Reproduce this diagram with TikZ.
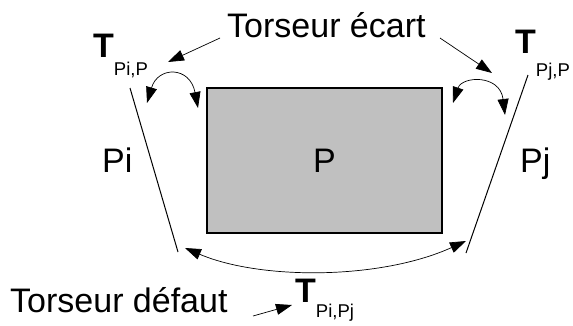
\documentclass[tikz,border=0pt]{standalone}
\usepackage{fontspec}
\setmainfont{Liberation Sans}
\usetikzlibrary{arrows.meta}
\newcommand{\bigfont}{\fontsize{34}{40}\selectfont}
\newcommand{\subfont}{\fontsize{18.5}{22}\selectfont}
\tikzset{
  lbl/.style={inner sep=0pt, anchor=base west, font=\bigfont},
  tlbl/.style={inner sep=0pt, anchor=base west, font=\bigfont},
  piece/.style={draw=black, line width=1pt},
  arr/.style={draw=black, line width=0.7pt, -{Triangle[length=16pt,width=11pt]}},
  darr/.style={draw=black, line width=0.7pt, {Triangle[length=16pt,width=11pt]}-{Triangle[length=16pt,width=11pt]}},
  rect/.style={draw=black, line width=1.3pt, fill={rgb,255:red,192;green,192;blue,192},
    minimum width=235pt, minimum height=145pt, inner sep=0pt, font=\bigfont}
}
\begin{document}
\begin{tikzpicture}[x=1pt,y=-1pt]
\useasboundingbox (0,0) rectangle (573,325);
% main part
\node[rect] (P) at (324.5,160.5) {P};
% labels
\node[lbl] (ecart) at (227,37) {Torseur écart};
\node[lbl] (defaut) at (10,312) {Torseur défaut};
\node[lbl] (pi) at (102,172) {Pi};
\node[lbl] (pj) at (520,172) {Pj};
\node[tlbl] (tpip) at (93,57) {\textbf{T}\raisebox{-18pt}{\subfont Pi,P}};
\node[tlbl] (tpjp) at (515,53) {\textbf{T}\raisebox{-23pt}{\subfont Pj,P}};
\node[tlbl] (tpipj) at (295,302) {\textbf{T}\raisebox{-15pt}{\subfont Pi,Pj}};
% surfaces Pi and Pj
\coordinate (pia) at (130,88);
\coordinate (pib) at (178,252);
\coordinate (pja) at (528,75);
\coordinate (pjb) at (466,253);
\draw[piece] (pia) -- (pib);
\draw[piece] (pja) -- (pjb);
% arrows from "Torseur ecart"
\coordinate (e1s) at (220,38);
\coordinate (e1t) at (168,62);
\coordinate (e2s) at (440,38);
\coordinate (e2t) at (492,73);
\draw[arr] (e1s) -- (e1t);
\draw[arr] (e2s) -- (e2t);
% double curved arrows
\coordinate (l1) at (147,103);
\coordinate (l2) at (198,108);
\draw[darr] (l1) .. controls (158,66) and (190,66) .. (l2);
\coordinate (r1) at (453,103);
\coordinate (r2) at (505,115);
\draw[darr] (r1) .. controls (462,76) and (500,74) .. (r2);
% bottom curve
\coordinate (b1) at (185,248);
\coordinate (b2) at (466,241);
\draw[darr] (b1) .. controls (260,280) and (380,280) .. (b2);
% arrow from "Torseur defaut"
\coordinate (d1) at (253,316);
\coordinate (d2) at (292,305);
\draw[arr] (d1) -- (d2);
\end{tikzpicture}
\end{document}
